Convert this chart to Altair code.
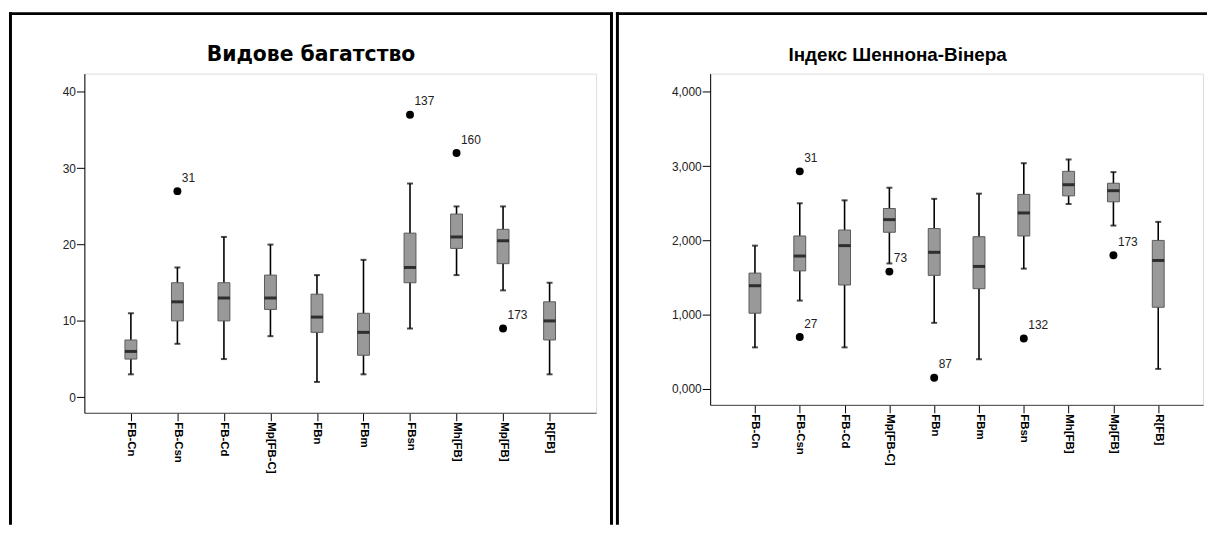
import altair as alt
import pandas as pd

FONT = "Liberation Sans"

categories = ["FB-Cn", "FB-Csn", "FB-Cd", "Mp[FB-C]", "FBn", "FBm", "FBsn", "Mh[FB]", "Mp[FB]", "R[FB]"]

# Видове багатство
rich_low = [3, 7, 5, 8, 2, 3, 9, 16, 14, 3]
rich_q1 = [5, 10, 10, 11.5, 8.5, 5.5, 15, 19.5, 17.5, 7.5]
rich_median = [6, 12.5, 13, 13, 10.5, 8.5, 17, 21, 20.5, 10]
rich_q3 = [7.5, 15, 15, 16, 13.5, 11, 21.5, 24, 22, 12.5]
rich_high = [11, 17, 21, 20, 16, 18, 28, 25, 25, 15]
rich_out_cat = ["FB-Csn", "FBsn", "Mh[FB]", "Mp[FB]"]
rich_out_val = [27, 37, 32, 9]
rich_out_id = ["31", "137", "160", "173"]

# Індекс Шеннона-Вінера
shan_low = [0.56, 1.19, 0.56, 1.69, 0.89, 0.40, 1.62, 2.49, 2.20, 0.27]
shan_q1 = [1.02, 1.59, 1.40, 2.11, 1.53, 1.35, 2.06, 2.60, 2.52, 1.10]
shan_median = [1.39, 1.79, 1.93, 2.28, 1.84, 1.65, 2.37, 2.75, 2.67, 1.73]
shan_q3 = [1.56, 2.06, 2.14, 2.43, 2.16, 2.05, 2.62, 2.93, 2.77, 2.00]
shan_high = [1.93, 2.50, 2.54, 2.71, 2.56, 2.63, 3.04, 3.09, 2.92, 2.25]
shan_out_cat = ["FB-Csn", "FB-Csn", "Mp[FB-C]", "FBn", "FBsn", "Mp[FB]"]
shan_out_val = [2.93, 0.70, 1.58, 0.15, 0.68, 1.80]
shan_out_id = ["31", "27", "73", "87", "132", "173"]

one_row = pd.DataFrame({"k": [0]})


def bar(x1, y1, x2, y2):
    # decorative panel border drawn as a filled strip (no stroke -> exact bounds)
    return alt.Chart(one_row).mark_rect(color="black", strokeWidth=0).encode(
        x=alt.value(x1), x2=alt.value(x2), y=alt.value(y1), y2=alt.value(y2)
    )


def panel(title, title_font, title_size, low, q1, med, q3, high, ocat, oval, oid, width, height,
          ydomain, yvalues, label_expr, title_x, borders):
    stats = pd.DataFrame({"cat": categories, "low": low, "q1": q1, "med": med, "q3": q3, "high": high})
    outs = pd.DataFrame({"cat": ocat, "val": oval, "id": oid})

    xenc = alt.X(
        "cat:N", sort=categories,
        scale=alt.Scale(type="point", padding=1.055),
        axis=alt.Axis(title=None, labelAngle=90, labelFontSize=11.5, labelFontWeight="bold",
                      labelFont=FONT, labelColor="#000", tickSize=8, tickColor="#000",
                      domainColor="#444", labelPadding=1, labelAlign="left",
                      labelBaseline="middle"),
    )
    yscale = alt.Scale(domain=ydomain, nice=False, zero=False)
    axis_kw = dict(title=None, values=yvalues, grid=False, tickSize=8, tickColor="#000",
                   domainColor="#000", labelFontSize=12, labelFont=FONT, labelColor="#222",
                   labelPadding=1)
    if label_expr:
        axis_kw["labelExpr"] = label_expr
    yaxis = alt.Axis(**axis_kw)

    base = alt.Chart(stats)
    whisk = base.mark_rule(color="black", strokeWidth=1.6).encode(
        x=xenc, y=alt.Y("low:Q", scale=yscale, axis=yaxis), y2="high:Q")
    cap_lo = base.mark_tick(color="black", size=6, thickness=2).encode(
        x=xenc, y=alt.Y("low:Q", scale=yscale, axis=yaxis))
    cap_hi = base.mark_tick(color="black", size=6, thickness=2).encode(
        x=xenc, y=alt.Y("high:Q", scale=yscale, axis=yaxis))
    box = base.mark_bar(size=12, color="#999999", stroke="#5a5a5a", strokeWidth=1).encode(
        x=xenc, y=alt.Y("q1:Q", scale=yscale, axis=yaxis), y2="q3:Q")
    median = base.mark_tick(color="black", size=12, thickness=3).encode(
        x=xenc, y=alt.Y("med:Q", scale=yscale, axis=yaxis))
    pts = alt.Chart(outs).mark_circle(size=64, color="black", opacity=1).encode(
        x=xenc, y=alt.Y("val:Q", scale=yscale, axis=yaxis))
    lbls = alt.Chart(outs).mark_text(align="left", baseline="alphabetic", dx=4.5, dy=-9.5,
                                     fontSize=12, font=FONT, color="#222").encode(
        x=xenc, y=alt.Y("val:Q", scale=yscale, axis=yaxis), text="id:N")
    ttl = alt.Chart(pd.DataFrame({"t": [title]})).mark_text(
        fontSize=title_size, fontWeight="bold", font=title_font, align="center",
        baseline="alphabetic", color="#000").encode(
        x=alt.value(title_x), y=alt.value(-13), text="t:N")

    layers = [bar(*b) for b in borders] + [ttl, whisk, cap_lo, cap_hi, box, median, pts, lbls]
    return alt.layer(*layers).properties(width=width, height=height)


left = panel(
    "Видове багатство", "DejaVu Sans", 20.5, rich_low, rich_q1, rich_median, rich_q3, rich_high,
    rich_out_cat, rich_out_val, rich_out_id, 516, 342,
    [-2.04, 42.4], [0, 10, 20, 30, 40], None, 228.5,
    [(-76, -62, -73, 455), (-76, -62, 533, -59), (530, -62, 533, 455)],
)
right = panel(
    "Індекс Шеннона-Вінера", FONT, 19, shan_low, shan_q1, shan_median, shan_q3, shan_high,
    shan_out_cat, shan_out_val, shan_out_id, 497, 334,
    [-0.214, 4.246], [0, 1, 2, 3, 4], "replace(format(datum.value, '.3f'), '.', ',')", 189,
    [(-95, -62, -92, 455), (-95, -62, 501, -59)],
)

chart = alt.hconcat(left, right, spacing=115, bounds="flush").properties(
    padding={"left": 0, "top": 1, "right": 0, "bottom": 0}
).configure_view(stroke="#8c8c8c", strokeWidth=2).configure(background="white")

chart.save("out.html", embed_options={"renderer": "svg", "actions": False})
